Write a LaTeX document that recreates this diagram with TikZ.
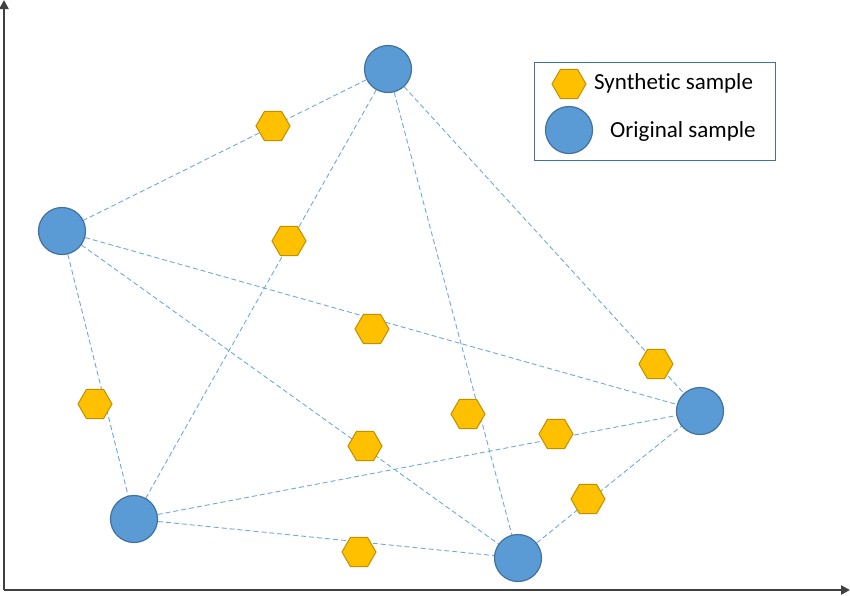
\documentclass[tikz,border=0pt]{standalone}
\usepackage{fontspec}
\setmainfont{Carlito}[Ligatures=NoCommon]
\usetikzlibrary{shapes.geometric,arrows.meta}
\definecolor{cfill}{HTML}{5B9BD5}
\definecolor{cdraw}{HTML}{41719C}
\definecolor{hfill}{HTML}{FFC000}
\definecolor{hdraw}{HTML}{BF9000}
\definecolor{edgec}{HTML}{6FA8DC}
\definecolor{axisc}{HTML}{404040}
\begin{document}
\begin{tikzpicture}[x=1pt,y=-1pt,
  orig/.style={circle,fill=cfill,draw=cdraw,line width=1.2pt,minimum size=47pt,inner sep=0pt},
  synth/.style={regular polygon,regular polygon sides=6,fill=hfill,draw=hdraw,line width=1pt,minimum size=34pt,inner sep=0pt},
  edge/.style={edgec,line width=0.9pt,dash pattern=on 5pt off 3pt},
  axis/.style={axisc,line width=2.4pt,-{Triangle[width=9pt,length=9pt]}},
  lbl/.style={font=\fontsize{23}{27}\selectfont,anchor=west,inner sep=0pt}]
\useasboundingbox (0,0) rectangle (850,595);
% axes
\coordinate (O) at (4,590);
\coordinate (Ytop) at (4,0);
\coordinate (Xend) at (850,590);
\draw[axis] (O) -- (Ytop);
\draw[axis] (O) -- (Xend);
% original sample coordinates
\coordinate (pA) at (388,69);
\coordinate (pB) at (62,231);
\coordinate (pC) at (134,519);
\coordinate (pD) at (518,558);
\coordinate (pE) at (700,411);
% edges
\draw[edge] (pA) -- (pB);
\draw[edge] (pA) -- (pC);
\draw[edge] (pA) -- (pD);
\draw[edge] (pA) -- (pE);
\draw[edge] (pB) -- (pC);
\draw[edge] (pB) -- (pD);
\draw[edge] (pB) -- (pE);
\draw[edge] (pC) -- (pD);
\draw[edge] (pC) -- (pE);
\draw[edge] (pD) -- (pE);
% synthetic samples
\node[synth] (s1) at (273,126) {};
\node[synth] (s2) at (289,241) {};
\node[synth] (s3) at (372,329) {};
\node[synth] (s4) at (656,364) {};
\node[synth] (s5) at (95,404) {};
\node[synth] (s6) at (468,414) {};
\node[synth] (s7) at (365,446) {};
\node[synth] (s8) at (556,434) {};
\node[synth] (s9) at (588,499) {};
\node[synth] (s10) at (359,552) {};
% original samples
\node[orig] (A) at (pA) {};
\node[orig] (B) at (pB) {};
\node[orig] (C) at (pC) {};
\node[orig] (D) at (pD) {};
\node[orig] (E) at (pE) {};
% legend
\node[draw=cdraw,line width=1.4pt,minimum width=241pt,minimum height=98pt,anchor=north west,inner sep=0pt] (legend) at (534,62) {};
\node[synth] (ls) at (569,84) {};
\node[lbl] (lst) at (594,83) {Synthetic sample};
\node[orig] (lo) at (569,130) {};
\node[lbl] (lot) at (610,131) {Original sample};
\end{tikzpicture}
\end{document}
